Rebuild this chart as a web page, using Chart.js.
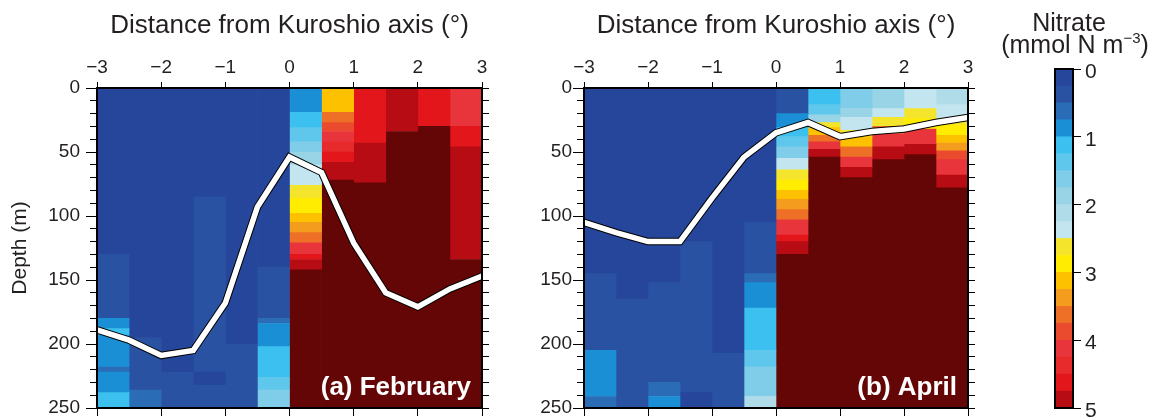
<!DOCTYPE html>
<html>
<head>
<meta charset="utf-8">
<script src="https://cdn.jsdelivr.net/npm/chart.js@4.4.0/dist/chart.umd.min.js"></script>
<style>
  body { margin: 0; background: #fff; }
  #wrap { position: relative; width: 1152px; height: 420px; overflow: hidden; }
  #wrap canvas { position: absolute; top: 0; }
</style>
</head>
<body>
<div id="wrap">
  <canvas id="feb" width="500" height="420" style="left:0"></canvas>
  <canvas id="apr" width="500" height="420" style="left:500px"></canvas>
  <canvas id="bar" width="152" height="420" style="left:1000px"></canvas>
</div>
<script>
// ---- data ----
const distance = [-3, -2.5, -2, -1.5, -1, -0.5, 0, 0.5, 1, 1.5, 2, 2.5, 3];
const columnCentre = [-2.75, -2.25, -1.75, -1.25, -0.75, -0.25, 0.25, 0.75, 1.25, 1.75, 2.25, 2.75];
const distanceTicks = [-3, -2, -1, 0, 1, 2, 3];
const depthTicks = [0, 50, 100, 150, 200, 250];
const nitrateTicks = [0, 1, 2, 3, 4, 5];
const nitrateLevels = [0, 0.25, 0.5, 0.75, 1, 1.25, 1.5, 1.75, 2, 2.25, 2.5,
  2.75, 3, 3.25, 3.5, 3.75, 4, 4.25, 4.5, 4.75, 5];

// white contour depth (m) at each distance
const febContour = [189, 197, 209, 205, 168, 93, 54, 66, 121, 160, 171, 157, 147];
const aprContour = [105, 113, 120, 120, 86, 54, 35, 27, 38, 34, 32, 27, 23];

// nitrate per 0.5 deg column: [bottom depth (m), nitrate] from the surface down
const febNitrate = [
  [[130, 0.2], [180, 0.4], [188, 0.8], [193, 1.1], [218, 0.85], [222, 0.6], [238, 0.85], [250, 1.1]],
  [[195, 0.15], [236, 0.4], [250, 0.6]],
  [[222, 0.15], [250, 0.35]],
  [[85, 0.15], [222, 0.4], [232, 0.15], [250, 0.3]],
  [[200, 0.15], [250, 0.3]],
  [[140, 0.15], [180, 0.4], [184, 0.6], [202, 0.85], [226, 1.1], [236, 1.4], [250, 1.7]],
  [[19, 0.85], [31, 1.1], [42, 1.4], [50, 1.6], [60, 1.8], [76, 2.3], [86, 2.6], [98, 2.9],
   [105, 3.1], [113, 3.4], [121, 3.7], [130, 4.1], [134, 4.6], [142, 4.9], [250, 6]],
  [[19, 3.1], [27, 3.5], [34, 3.8], [42, 4.1], [50, 4.3], [58, 4.6], [72, 4.9], [250, 6]],
  [[43, 4.6], [74, 4.9], [250, 6]],
  [[34, 4.9], [250, 6]],
  [[30, 4.6], [250, 6]],
  [[30, 4.2], [46, 4.6], [134, 4.9], [250, 6]]
];
const aprNitrate = [
  [[145, 0.15], [205, 0.35], [241, 0.8], [250, 0.55]],
  [[165, 0.15], [250, 0.35]],
  [[152, 0.15], [230, 0.35], [241, 0.6], [250, 0.85]],
  [[120, 0.15], [238, 0.4], [250, 0.15]],
  [[207, 0.15], [250, 0.35]],
  [[105, 0.15], [145, 0.4], [152, 0.6], [172, 0.85], [205, 1.1], [218, 1.4], [241, 1.7], [250, 2.1]],
  [[20, 0.4], [31, 0.85], [38, 1.1], [46, 1.4], [55, 1.7], [64, 2.3], [72, 2.6], [80, 2.9],
   [87, 3.1], [95, 3.4], [103, 3.7], [115, 4.1], [120, 4.6], [130, 4.9], [250, 6]],
  [[13, 1.1], [21, 1.4], [27, 1.8], [31, 2.6], [37, 3.1], [42, 3.5], [48, 4.1], [54, 4.9], [250, 6]],
  [[16, 1.7], [23, 1.9], [33, 2.3], [38, 2.7], [46, 3.1], [54, 3.6], [62, 4.2], [70, 4.9], [250, 6]],
  [[16, 1.9], [23, 2.4], [30, 2.7], [36, 3.6], [46, 4.2], [56, 4.9], [250, 6]],
  [[16, 2.4], [24, 2.6], [32, 2.9], [44, 4.2], [52, 4.9], [250, 6]],
  [[13, 2.0], [24, 2.4], [29, 2.7], [37, 2.9], [43, 3.1], [49, 3.4], [56, 3.9], [68, 4.2], [78, 4.9], [250, 6]]
];

// ---- styling ----
const palette = ['#25469b', '#2a52a3', '#2a6db6', '#1b8fd6', '#3bc0ef', '#60c7ec', '#7fcde8',
  '#98d3e6', '#b0dbe8', '#c2e5ef', '#f4e52c', '#ffec00', '#fdc100', '#f49c1e', '#ee7027',
  '#ea4b2f', '#e8353b', '#e72a2c', '#e3161b', '#b70c13'];
const overColour = '#650606';
const FONT = '"Liberation Sans", Arial, Helvetica, sans-serif';
Chart.defaults.font.family = FONT;
Chart.defaults.color = '#231f20';

function nitrateColour(v) {
  if (v >= 5) return overColour;
  for (let i = palette.length - 1; i >= 0; i--) {
    if (v >= nitrateLevels[i]) return palette[i];
  }
  return palette[0];
}

const minusFmt = v => (v < 0 ? '\u2212' + Math.abs(v) : String(v));

// fixed axis box size, and no label overflow padding (keeps the plot frame where it belongs)
const fixSize = (w, h) => s => {
  if (w !== null) s.width = w;
  if (h !== null) s.height = h;
  s.paddingTop = 0; s.paddingBottom = 0; s.paddingLeft = 0; s.paddingRight = 0;
};

const frame = {
  id: 'frame',
  afterDraw(chart) {
    const { ctx, chartArea: a } = chart;
    ctx.save();
    ctx.strokeStyle = '#000';
    ctx.lineWidth = 2;
    ctx.strokeRect(a.left, a.top, a.right - a.left, a.bottom - a.top);
    ctx.restore();
  }
};

const panelLabel = {
  id: 'panelLabel',
  afterDatasetsDraw(chart, args, opts) {
    const { ctx, chartArea: a } = chart;
    ctx.save();
    ctx.font = 'bold 26px ' + FONT;
    ctx.fillStyle = '#fff';
    ctx.textAlign = 'right';
    ctx.textBaseline = 'alphabetic';
    ctx.fillText(opts.text, a.right - 11, a.bottom - 13);
    ctx.restore();
  }
};

function makePanel(id, profiles, contour, label, leftWidth, rightWidth, labelPad, depthTitle) {
  const bars = profiles.map((segments, i) => {
    const data = [], colours = [];
    let top = 0;
    segments.forEach(([bottom, value]) => {
      data.push({ x: columnCentre[i], y: [top, bottom] });
      colours.push(nitrateColour(value));
      top = bottom;
    });
    return {
      type: 'bar', data, backgroundColor: colours, borderWidth: 0,
      grouped: false, barPercentage: 1, categoryPercentage: 1, order: 2
    };
  });
  const line = distance.map((x, i) => ({ x, y: contour[i] }));

  const depthAxis = (position, extra) => Object.assign({
    type: 'linear', position, reverse: true, min: 0, max: 250,
    border: { display: false },
    grid: { drawOnChartArea: false, tickLength: 7, color: '#000', offset: false }
  }, extra);

  return new Chart(document.getElementById(id), {
    type: 'bar',
    data: {
      datasets: [
        { type: 'line', data: line, borderColor: '#fff', borderWidth: 5.5, pointRadius: 0, clip: 0, order: 0 },
        { type: 'line', data: line, borderColor: '#000', borderWidth: 7.5, pointRadius: 0, clip: 0, order: 1 },
        ...bars
      ]
    },
    options: {
      responsive: false,
      animation: false,
      layout: { padding: 0 },
      plugins: {
        legend: { display: false },
        tooltip: { enabled: false },
        panelLabel: { text: label }
      },
      scales: {
        x: {
          type: 'linear', position: 'top', min: -3, max: 3, offset: false,
          afterBuildTicks: s => { s.ticks = distanceTicks.map(value => ({ value })); },
          ticks: { callback: minusFmt, font: { size: 19 }, padding: 3, maxRotation: 0, autoSkip: false },
          grid: { drawOnChartArea: false, tickLength: 6, color: '#000', offset: false },
          border: { display: false },
          title: {
            display: true, text: 'Distance from Kuroshio axis (\u00b0)',
            font: { size: 26 }, padding: { top: 10, bottom: 0 }
          },
          afterFit: fixSize(null, 88)
        },
        xb: {
          type: 'linear', position: 'bottom', min: -3, max: 3, offset: false,
          afterBuildTicks: s => { s.ticks = distanceTicks.map(value => ({ value })); },
          ticks: { display: false },
          grid: { drawOnChartArea: false, tickLength: 8, color: '#000', offset: false },
          border: { display: false },
          afterFit: fixSize(null, 12)
        },
        y: depthAxis('left', {
          weight: 1,
          afterBuildTicks: s => { s.ticks = depthTicks.map(value => ({ value })); },
          ticks: { font: { size: 19 }, padding: labelPad },
          grid: { drawOnChartArea: false, tickLength: 11, color: '#000', offset: false },
          title: { display: depthTitle, text: 'Depth (m)', font: { size: 21 }, padding: { top: 8 } },
          afterFit: fixSize(leftWidth, null)
        }),
        ym: depthAxis('left', {
          weight: 0,
          ticks: { display: false, stepSize: 10, maxTicksLimit: 40 },
          afterFit: fixSize(0, null)
        }),
        yr: depthAxis('right', {
          ticks: { display: false, stepSize: 10, maxTicksLimit: 40 },
          afterFit: fixSize(rightWidth, null)
        })
      }
    },
    plugins: [panelLabel, frame]
  });
}

makePanel('feb', febNitrate, febContour, '(a) February', 97, 18, 6, true);
makePanel('apr', aprNitrate, aprContour, '(b) April', 84, 32, 1, false);

// ---- colour bar ----
const colourTitle = {
  id: 'colourTitle',
  afterDraw(chart) {
    const { ctx } = chart;
    const cx = 73;
    ctx.save();
    ctx.fillStyle = '#231f20';
    ctx.textBaseline = 'alphabetic';
    ctx.font = '25px ' + FONT;
    ctx.textAlign = 'center';
    ctx.fillText('Nitrate', cx - 4, 31);
    const main = '(mmol N m', sup = '\u22123', close = ')';
    ctx.font = '25px ' + FONT;
    const w1 = ctx.measureText(main).width, w3 = ctx.measureText(close).width;
    ctx.font = '15px ' + FONT;
    const w2 = ctx.measureText(sup).width;
    let x = cx + 2 - (w1 + w2 + w3) / 2;
    ctx.textAlign = 'left';
    ctx.font = '25px ' + FONT;
    ctx.fillText(main, x, 53);
    x += w1;
    ctx.font = '15px ' + FONT;
    ctx.fillText(sup, x, 43);
    x += w2;
    ctx.font = '25px ' + FONT;
    ctx.fillText(close, x, 53);
    ctx.restore();
  }
};

const bands = palette.map((c, i) => ({ x: 0, y: [nitrateLevels[i], nitrateLevels[i + 1]] }));

new Chart(document.getElementById('bar'), {
  type: 'bar',
  data: {
    datasets: [{
      data: bands, backgroundColor: palette, borderWidth: 0,
      grouped: false, barThickness: 18
    }]
  },
  options: {
    responsive: false,
    animation: false,
    layout: { padding: { left: 55, top: 69, right: 0, bottom: 12 } },
    plugins: { legend: { display: false }, tooltip: { enabled: false } },
    scales: {
      x: { type: 'linear', min: -1, max: 1, display: false, offset: false, grid: { offset: false } },
      y: {
        type: 'linear', position: 'right', reverse: true, min: 0, max: 5,
        afterBuildTicks: s => { s.ticks = nitrateTicks.map(value => ({ value })); },
        ticks: { font: { size: 21 }, padding: 4, labelOffset: 3 },
        grid: { drawOnChartArea: false, tickLength: 8, color: '#000' },
        border: { display: false },
        afterFit: fixSize(79, null)
      }
    }
  },
  plugins: [frame, colourTitle]
});
</script>
</body>
</html>
